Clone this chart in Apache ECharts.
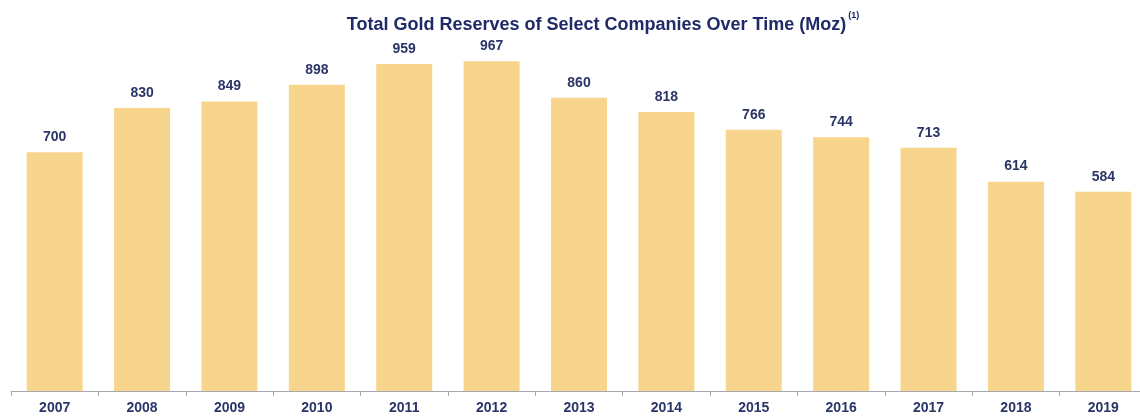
<!DOCTYPE html>
<html><head><meta charset="utf-8">
<script src="https://cdn.jsdelivr.net/npm/echarts@6/dist/echarts.min.js"></script>
<style>html,body{margin:0;padding:0;background:#fff;overflow:hidden;width:1140px;height:417px}#c{width:1148px;height:417px}</style>
</head><body><div id="c"></div>
<script>
const years = ['2007','2008','2009','2010','2011','2012','2013','2014','2015','2016','2017','2018','2019'];
const reserves = [700,830,849,898,959,967,860,818,766,744,713,614,584];
const chart = echarts.init(document.getElementById('c'));
chart.setOption({
  animation:false,
  title:{
    text:'{t|Total Gold Reserves of Select Companies Over Time (Moz)}{s|(1)}',
    left:598, top:6, textAlign:'center',
    textStyle:{rich:{
      t:{fontFamily:'Liberation Sans, Arial',fontWeight:'bold',fontSize:18,color:'#1F2A66',verticalAlign:'bottom'},
      s:{fontFamily:'Liberation Sans, Arial',fontSize:9,color:'#1F2A66',verticalAlign:'top',padding:[0,0,14,2]}
    }}
  },
  grid:{left:11,right:1,top:50,bottom:26,containLabel:false},
  xAxis:{type:'category',data:years,
    axisLine:{lineStyle:{color:'#A8A8B0',width:1}},
    axisTick:{show:true,length:5,lineStyle:{color:'#A8A8B0'}},
    axisLabel:{fontFamily:'Liberation Sans, Arial',fontWeight:'bold',fontSize:14,color:'#2B3568',margin:10}},
  yAxis:{type:'value',min:0,max:1000,show:false,splitLine:{show:false}},
  series:[{type:'bar',data:reserves,barWidth:56,
    itemStyle:{color:'#F7D58C'},
    label:{show:true,position:'top',distance:8,fontFamily:'Liberation Sans, Arial',fontWeight:'bold',fontSize:14,color:'#2B3568'}}]
});
</script></body></html>
